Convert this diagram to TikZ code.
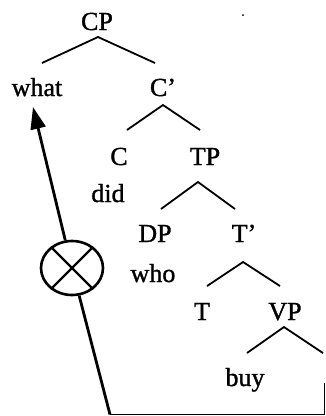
\documentclass[tikz,border=0pt]{standalone}
\usepackage{fontspec}
\setmainfont{Liberation Serif}
\newfontfamily\lblfont{Liberation Serif}[RawFeature={embolden=1.2}]
\usetikzlibrary{arrows.meta,shapes.geometric}
\begin{document}
\begin{tikzpicture}[x=1pt,y=-1pt,
  lbl/.style={anchor=base,inner sep=0pt,font=\lblfont\fontsize{26}{30}\selectfont},
  branch/.style={line width=1.8pt},
  mvline/.style={line width=2.8pt},
  xcirc/.style={draw,ellipse,line width=2.6pt,minimum width=62pt,minimum height=54pt,inner sep=0pt}]
\useasboundingbox (0,0) rectangle (326,416);
% labels
\node[lbl] (cp) at (97,30) {CP};
\node[lbl] (what) at (37,96) {what};
\node[lbl] (cbar) at (163,96) {C’};
\node[lbl] (c) at (119,165) {C};
\node[lbl] (tp) at (205,165) {TP};
\node[lbl] (did) at (108,202) {did};
\node[lbl] (dp) at (155,242) {DP};
\node[lbl] (tbar) at (244,242) {T’};
\node[lbl] (who) at (153,282) {who};
\node[lbl] (t) at (202,320) {T};
\node[lbl] (vp) at (285,320) {VP};
\node[lbl] (buy) at (245,386) {buy};
% branch points
\coordinate (cpA) at (98,37);  \coordinate (cpL) at (42,63);  \coordinate (cpR) at (155,63);
\coordinate (cbA) at (163,105); \coordinate (cbL) at (127,130); \coordinate (cbR) at (200,130);
\coordinate (tpA) at (198,182); \coordinate (tpL) at (161,209); \coordinate (tpR) at (235,209);
\coordinate (tbA) at (243,262); \coordinate (tbL) at (207,286); \coordinate (tbR) at (280,286);
\coordinate (vpA) at (284,327); \coordinate (vpL) at (247,353); \coordinate (vpR) at (323,353);
\draw[branch] (cpL) -- (cpA) -- (cpR);
\draw[branch] (cbL) -- (cbA) -- (cbR);
\draw[branch] (tpL) -- (tpA) -- (tpR);
\draw[branch] (tbL) -- (tbA) -- (tbR);
\draw[branch] (vpL) -- (vpA) -- (vpR);
% movement arrow with crossed circle
\node[xcirc] (x) at (72,268) {};
\draw[line width=2.4pt] (x.45) -- (x.225) (x.135) -- (x.315);
\coordinate (tip) at (33,107);
\coordinate (tail) at (110,414.5);
\coordinate (corner) at (324.5,414.5);
\coordinate (rtop) at (324.5,383);
\draw[branch,line width=1.6pt] (rtop) -- (corner) -- (tail);
\draw[mvline] (tail) -- (x);
\draw[mvline,-{Triangle[length=22pt,width=15pt]}] (x) -- (tip);
% stray dot
\fill (243,15) circle (1pt);
\end{tikzpicture}
\end{document}
